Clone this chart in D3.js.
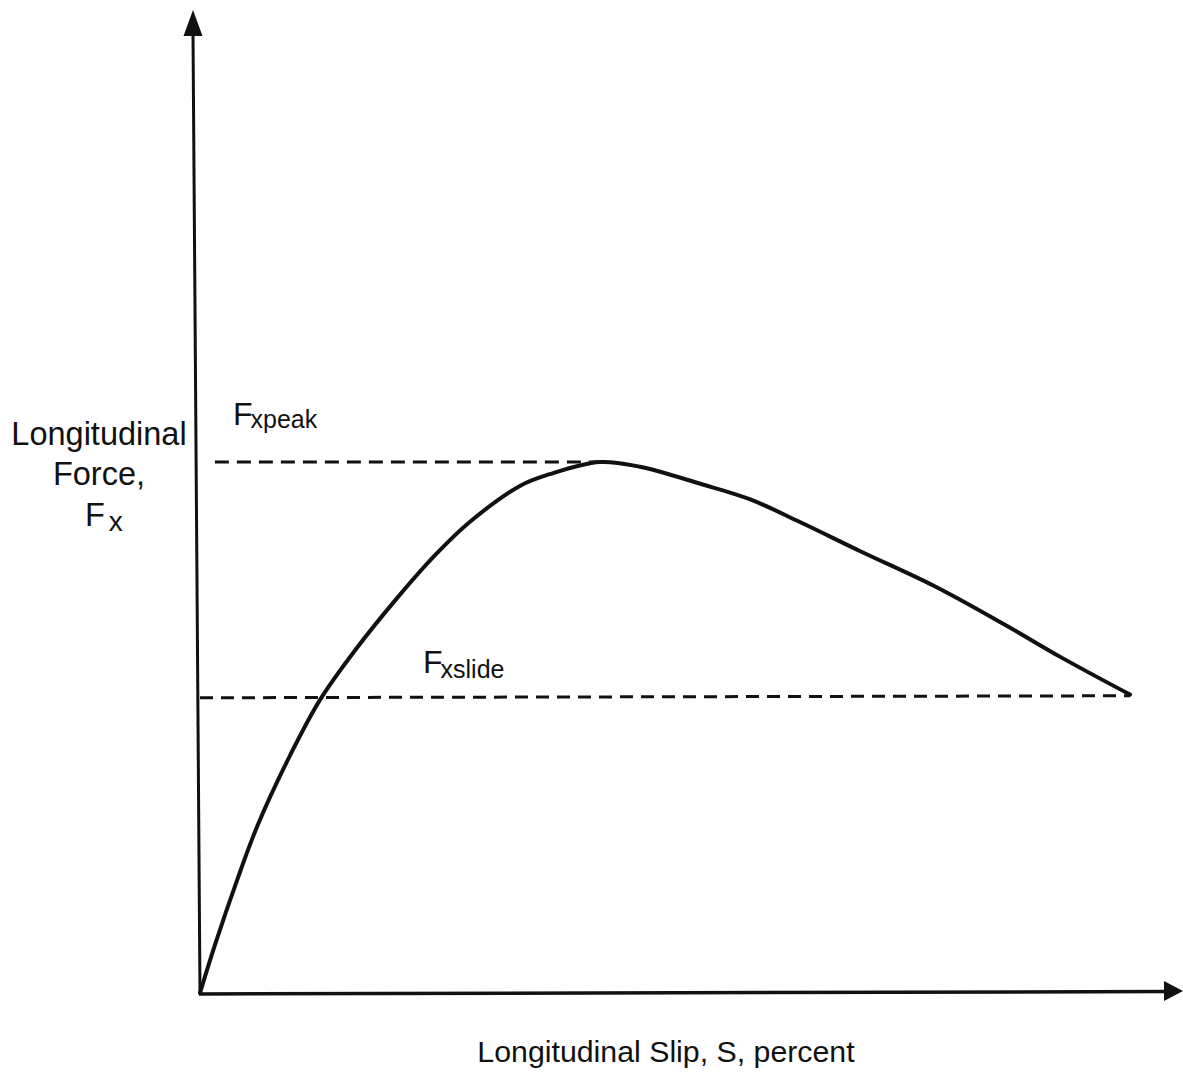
<!DOCTYPE html>
<html>
<head>
<meta charset="utf-8">
<script src="https://cdn.jsdelivr.net/npm/d3@7"></script>
<style>
  html, body { margin: 0; padding: 0; background: #fff; }
  svg { display: block; }
  text { font-family: "Liberation Sans", Arial, Helvetica, sans-serif; fill: #111; }
</style>
</head>
<body>
<svg id="chart" width="1183" height="1078"></svg>
<script>
// Slip (percent of full slide) and normalized longitudinal force
const slipValues  = [0, 1.6, 4.0, 6.2, 9.7, 12.9, 16.7, 21.3, 25.3, 29.0, 34.4, 37.6, 43.0, 47.3, 53.8, 59.1, 64.5, 71.0, 79.0, 86.6, 92.5, 100];
const forceValues = [0, 0.090, 0.213, 0.316, 0.448, 0.552, 0.646, 0.746, 0.825, 0.887, 0.955, 0.977, 1.0, 0.991, 0.959, 0.930, 0.887, 0.832, 0.766, 0.693, 0.633, 0.562];

const peakForce = 1.0;
const peakSlip = 43.0;
const slideForce = 0.556;
const slideSlipEnd = 100;

const xLabel = "Longitudinal Slip, S, percent";
const yLabelLines = ["Longitudinal", "Force,"];
const yLabelSymbol = ["F", "x"];
const peakLabel = ["F", "xpeak"];
const slideLabel = ["F", "xslide"];

const svg = d3.select("#chart");
const x = d3.scaleLinear().domain([0, 100]).range([200, 1130]);
const y = d3.scaleLinear().domain([0, 1]).range([993, 462]);

const ink = "#111";

// Axes (hand-drawn feel: y axis leans slightly left at the top)
const x0 = x(0), y0 = y(0);
const yTop = 10, xRight = 1183, lean = 7;
svg.append("line").attr("x1", x0).attr("y1", y0 + 1).attr("x2", x0 - lean).attr("y2", yTop + 24)
  .attr("stroke", ink).attr("stroke-width", 3);
svg.append("line").attr("x1", x0 - 1).attr("y1", y0 + 1).attr("x2", xRight - 16).attr("y2", y0 - 1.5)
  .attr("stroke", ink).attr("stroke-width", 3.5);
// arrowheads
svg.append("path")
  .attr("d", `M${x0 - lean},${yTop} L${x0 - lean + 9.5},${yTop + 26} L${x0 - lean - 9.5},${yTop + 26} Z`)
  .attr("fill", ink);
svg.append("path")
  .attr("d", `M${xRight},${y0 - 2} L${xRight - 19},${y0 - 12} L${xRight - 19},${y0 + 8} Z`)
  .attr("fill", ink);

// Dashed reference lines
svg.append("line")
  .attr("x1", x(1.6)).attr("x2", x(peakSlip))
  .attr("y1", y(peakForce)).attr("y2", y(peakForce))
  .attr("stroke", ink).attr("stroke-width", 3).attr("stroke-dasharray", "14,8");
svg.append("line")
  .attr("x1", x(0)).attr("x2", x(slideSlipEnd))
  .attr("y1", y(slideForce)).attr("y2", y(slideForce) - 2)
  .attr("stroke", ink).attr("stroke-width", 3).attr("stroke-dasharray", "13,8");

// Curve
const data = slipValues.map((s, i) => ({ s, f: forceValues[i] }));
const line = d3.line().x(d => x(d.s)).y(d => y(d.f)).curve(d3.curveCatmullRom.alpha(0.5));
svg.append("path").datum(data)
  .attr("d", line)
  .attr("fill", "none").attr("stroke", ink).attr("stroke-width", 4)
  .attr("stroke-linejoin", "round").attr("stroke-linecap", "round");

// Y label (centred lines)
svg.append("text").attr("x", 99).attr("y", 445).attr("text-anchor", "middle")
  .attr("font-size", 32.5).text(yLabelLines[0]);
svg.append("text").attr("x", 99).attr("y", 485).attr("text-anchor", "middle")
  .attr("font-size", 32.5).text(yLabelLines[1]);
const fx = svg.append("text").attr("x", 85).attr("y", 526).attr("font-size", 32.5);
fx.append("tspan").text(yLabelSymbol[0]);
fx.append("tspan").attr("dx", 4).attr("dy", 5).attr("font-size", 28).text(yLabelSymbol[1]);

// Peak label
const pk = svg.append("text").attr("x", 233).attr("y", 425).attr("font-size", 32);
pk.append("tspan").text(peakLabel[0]);
pk.append("tspan").attr("dx", -2).attr("dy", 3).attr("font-size", 25).text(peakLabel[1]);

// Slide label
const sl = svg.append("text").attr("x", 423).attr("y", 673).attr("font-size", 32);
sl.append("tspan").text(slideLabel[0]);
sl.append("tspan").attr("dx", -2).attr("dy", 5).attr("font-size", 25).text(slideLabel[1]);

// X label
svg.append("text").attr("x", 666).attr("y", 1062).attr("text-anchor", "middle")
  .attr("font-size", 30.3).text(xLabel);
</script>
</body>
</html>
